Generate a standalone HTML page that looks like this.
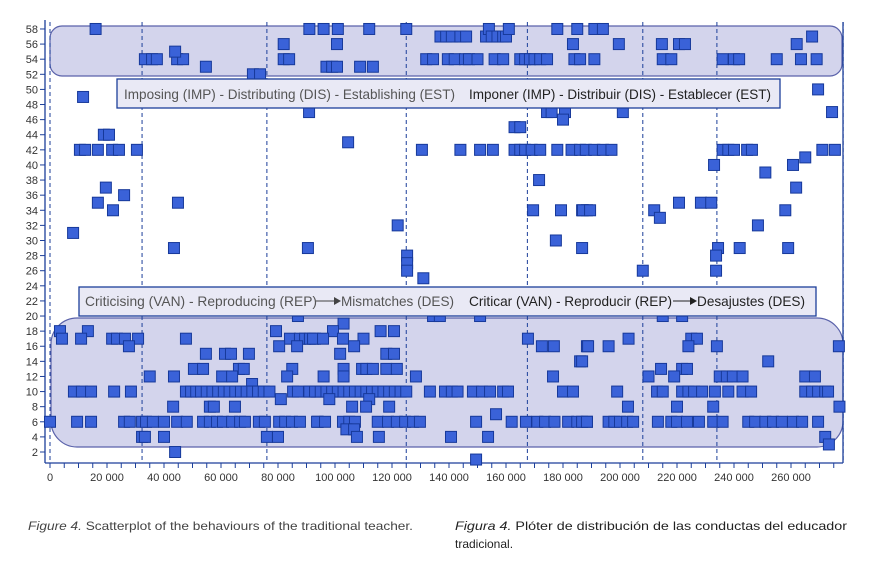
<!DOCTYPE html>
<html><head><meta charset="utf-8">
<style>
html,body{margin:0;padding:0;background:#fff;}
svg{display:block;font-family:"Liberation Sans",sans-serif;}
</style></head>
<body>
<svg id="chart" width="878" height="572" viewBox="0 0 878 572" xmlns="http://www.w3.org/2000/svg">
<g id="regions"></g>
<g id="grid"></g>
<g id="axes"></g>
<g id="points"></g>
<g id="labels"></g>
<g id="caption"></g>
</svg>
<script>
// x values in thousands, y values = behaviour code
const xs = [
 16,91,96,101,112,125,137,139,141,144,146,153,154,155,157,159,160,161,178,185,191,194,
 33.3,35.8,37.5,44.6,46.7,82,83.9,132,134.4,139.6,142,145.6,147,150,156,159,165,166.7,168.4,170,172,174.4,184,186,191,215,218,236,240,241.8,255,263.5,269,
 43.9,82,100.7,183.5,199.6,214.7,220.7,222.8,262,
 267.4,
 54.7,97,99,100.7,108.8,113.3,
 71.2,73.7,
 11.6,269.5,
 90.9,174.4,176,180.7,201,274.4,
 180,
 18.9,20.7,163,165,
 104.6,
 10.5,12.3,16.8,21.8,24.2,30.5,130.5,144,150.9,155.4,163,165,166.7,169,172,178,183,186,188,191,194,197,236,238,240,244.6,246.3,271,275.4,
 265,233,260.7,251,
 19.6,171.6,261.8,
 26,
 16.8,44.9,220.7,228.4,232,
 22.1,169.5,179.3,186.7,188.4,187,189.5,212,258,
 214,
 122,248.4,
 8.1,
 177.5,
 43.5,90.5,186.7,234.4,242,259,
 125.3,233.7,
 125.3,
 125.3,208,233.7,
 131,
 87,134.4,136.8,150.9,215,221.8,
 103,
 3.5,13.3,79.3,99.3,116,120.7,
 4.2,10.9,21.8,23.5,26.3,30.9,47.7,84.2,87.7,89.5,91.2,93,92.3,95.8,102.8,110,167.7,203,225,227,
 27.7,80.4,86.7,106.7,172.6,176.8,188.4,188.8,196,224,234,276.8,
 54.7,61.4,63.5,69.8,101.8,118,120.7,
 186,186.7,252,
 50.5,53.7,66.3,68,85,103,109.5,111,113.3,118,121.7,214.4,221.8,223.5,
 35,43.5,60.4,63.9,83.2,96,103,128.4,176.5,210,219,235,237.5,239.6,243,265,268.4,
 70.9,
 8.4,11.2,14.4,22.5,28.4,47.7,49.5,51.3,53,55,57,59,61,63,65,67,69,71,73,75,77,85.3,87,91.2,93.7,
 91,93,95,97,99,101,103,105,107,109,111,113,115,117,119,121,123,125,133.3,138.6,141,143,148.4,151.6,154.4,159,160.7,180,183.5,
 199,213,215,221.8,224,226,228.8,233.3,238,243,246,265,267.4,269.5,272,273,
 81,98,112,
 43.2,56.1,57.5,64.9,106,110.9,119,232.7,220,277,202.8,
 156.5,
 0,9.5,14.4,26,28,32.3,33.7,36.1,40,44.6,48,53.7,56.1,58.6,60.7,63.9,66.7,68.4,73.3,75.4,80.4,82.5,84.9,87.7,94,
 93.7,96.5,102.8,105,107,115,118.6,121.7,124.6,127.4,129.8,149.5,162,167,171,173.7,177,181.8,185,188.4,
 186.7,188.4,196,198,200,202.5,204.6,213.3,218,220,223.5,227.7,232.7,236,245,247.4,251,253.7,256.8,260.7,263.9,269.5,
 104,106.7,
 32.3,33.3,40,76.1,80,107.7,115.4,140.7,153.7,272,
 273.3,
 43.9,
 149.5
];
const ys = [
 58,58,58,58,58,58,57,57,57,57,57,57,58,57,57,57,57,58,58,58,58,58,
 54,54,54,54,54,54,54,54,54,54,54,54,54,54,54,54,54,54,54,54,54,54,54,54,54,54,54,54,54,54,54,54,54,
 55,56,56,56,56,56,56,56,56,
 57,
 53,53,53,53,53,53,
 52,52,
 49,50,
 47,47,47,47,47,47,
 46,
 44,44,45,45,
 43,
 42,42,42,42,42,42,42,42,42,42,42,42,42,42,42,42,42,42,42,42,42,42,42,42,42,42,42,42,42,
 41,40,40,39,
 37,38,37,
 36,
 35,35,35,35,35,
 34,34,34,34,34,34,34,34,34,
 33,
 32,32,
 31,
 30,
 29,29,29,29,29,29,
 28,28,
 27,
 26,26,26,
 25,
 20,20,20,20,20,20,
 19,
 18,18,18,18,18,18,
 17,17,17,17,17,17,17,17,17,17,17,17,17,17,17,17,17,17,17,17,
 16,16,16,16,16,16,16,16,16,16,16,16,
 15,15,15,15,15,15,15,
 14,14,14,
 13,13,13,13,13,13,13,13,13,13,13,13,13,13,
 12,12,12,12,12,12,12,12,12,12,12,12,12,12,12,12,12,
 11,
 10,10,10,10,10,10,10,10,10,10,10,10,10,10,10,10,10,10,10,10,10,10,10,10,10,
 10,10,10,10,10,10,10,10,10,10,10,10,10,10,10,10,10,10,10,10,10,10,10,10,10,10,10,10,10,
 10,10,10,10,10,10,10,10,10,10,10,10,10,10,10,10,
 9,9,9,
 8,8,8,8,8,8,8,8,8,8,8,
 7,
 6,6,6,6,6,6,6,6,6,6,6,6,6,6,6,6,6,6,6,6,6,6,6,6,6,
 6,6,6,6,6,6,6,6,6,6,6,6,6,6,6,6,6,6,6,6,
 6,6,6,6,6,6,6,6,6,6,6,6,6,6,6,6,6,6,6,6,6,6,
 5,5,
 4,4,4,4,4,4,4,4,4,4,
 3,
 2,
 1
];
const yTicks = [2,4,6,8,10,12,14,16,18,20,22,24,26,28,30,32,34,36,38,40,42,44,46,48,50,52,54,56,58];
const xLabelValues = [0,20,40,60,80,100,120,140,160,180,200,220,240,260];
const xLabelTexts = ["0","20 000","40 000","60 000","80 000","100 000","120 000","140 000","160 000","180 000","200 000","220 000","240 000","260 000"];
const sessionBreaks = [0,32.3,76.1,125,167.5,208,234,278.3];

const NS="http://www.w3.org/2000/svg";
const X0=50, PXK=2.85, Y2=452, PY=7.554;
function sx(v){return X0+v*PXK;}
function sy(v){return Y2-(v-2)*PY;}
function mk(tag,attrs,parent){const e=document.createElementNS(NS,tag);for(const k in attrs)e.setAttribute(k,attrs[k]);parent.appendChild(e);return e;}

const regions=document.getElementById('regions');
let r=mk('rect',{x:50,y:26,width:792,height:50,rx:12,fill:'#d3d4ec',stroke:'#5a62aa','stroke-width':1.2},regions);


r=mk('rect',{x:51,y:318,width:792,height:129,rx:26,fill:'#d3d4ec',stroke:'#5a62aa','stroke-width':1.2},regions);



const grid=document.getElementById('grid');
sessionBreaks.forEach(v=>{
 const l=mk('line',{x1:sx(v),x2:sx(v),y1:22,y2:463,stroke:'#1c3f9a','stroke-width':1,'stroke-dasharray':'4,3'},grid);
 
 
});

const axes=document.getElementById('axes');
let a=mk('line',{x1:45,x2:45,y1:20,y2:463,stroke:'#1c3f9a','stroke-width':1.3},axes);


a=mk('line',{x1:45,x2:843,y1:463,y2:463,stroke:'#1c3f9a','stroke-width':1.3},axes);


mk('line',{x1:843,x2:843,y1:22,y2:463,stroke:'#1c3f9a','stroke-width':1.3},axes);
yTicks.forEach(v=>{
 mk('line',{x1:40,x2:45,y1:sy(v),y2:sy(v),stroke:'#1c3f9a','stroke-width':1},axes);
 const t=mk('text',{x:38,y:sy(v)+4,'text-anchor':'end','font-size':11,fill:'#333'},axes);
 t.textContent=v;
 
 
});
for(let k=0;k<=275;k+=5){
 mk('line',{x1:sx(k),x2:sx(k),y1:463,y2:468,stroke:'#1c3f9a','stroke-width':1},axes);
}
xLabelValues.forEach((v,i)=>{
 const t=mk('text',{x:sx(v),y:481,'text-anchor':'middle','font-size':11,fill:'#333'},axes);
 t.textContent=xLabelTexts[i];
 
 
});

const pts=document.getElementById('points');
xs.forEach((v,i)=>{
 const p=mk('rect',{x:sx(v)-5.5,y:sy(ys[i])-5.5,width:11,height:11,fill:'#3a62d8',stroke:'#17399a','stroke-width':1},pts);
 
 
});

const labels=document.getElementById('labels');
let b=mk('rect',{x:117,y:79,width:663,height:29,fill:'#e9e9f5',stroke:'#1c3f9a','stroke-width':1.3},labels);


let t=mk('text',{x:124,y:99,'font-size':14,fill:'#555',textLength:331,lengthAdjust:'spacingAndGlyphs'},labels);
t.textContent='Imposing (IMP) - Distributing (DIS) - Establishing (EST)';
t=mk('text',{x:469,y:99,'font-size':14,fill:'#222',textLength:302,lengthAdjust:'spacingAndGlyphs'},labels);
t.textContent='Imponer (IMP) - Distribuir (DIS) - Establecer (EST)';
b=mk('rect',{x:79,y:287,width:737,height:29,fill:'#e9e9f5',stroke:'#1c3f9a','stroke-width':1.3},labels);


t=mk('text',{x:85,y:306,'font-size':14,fill:'#555',textLength:232,lengthAdjust:'spacingAndGlyphs'},labels);
t.textContent='Criticising (VAN) - Reproducing (REP)';
mk('line',{x1:316,x2:334,y1:301,y2:301,stroke:'#444','stroke-width':1},labels);
mk('path',{d:'M334,297 L341,301 L334,305 Z',fill:'#444'},labels);
t=mk('text',{x:341,y:306,'font-size':14,fill:'#555',textLength:113,lengthAdjust:'spacingAndGlyphs'},labels);
t.textContent='Mismatches (DES)';
t=mk('text',{x:469,y:306,'font-size':14,fill:'#222',textLength:203,lengthAdjust:'spacingAndGlyphs'},labels);
t.textContent='Criticar (VAN) - Reproducir (REP)';
mk('line',{x1:673,x2:690,y1:301,y2:301,stroke:'#222','stroke-width':1},labels);
mk('path',{d:'M690,297 L697,301 L690,305 Z',fill:'#222'},labels);
t=mk('text',{x:697,y:306,'font-size':14,fill:'#222',textLength:108,lengthAdjust:'spacingAndGlyphs'},labels);
t.textContent='Desajustes (DES)';

const cap=document.getElementById('caption');
t=mk('text',{x:28,y:530,'font-size':12,fill:'#444',textLength:385,lengthAdjust:'spacingAndGlyphs'},cap);
t.innerHTML='<tspan font-style="italic">Figure 4.</tspan> Scatterplot of the behaviours of the traditional teacher.';


t=mk('text',{x:455,y:530,'font-size':12,fill:'#222',textLength:392,lengthAdjust:'spacingAndGlyphs'},cap);
t.innerHTML='<tspan font-style="italic">Figura 4.</tspan> Plóter de distribución de las conductas del educador';


t=mk('text',{x:455,y:548,'font-size':12,fill:'#222'},cap);
t.textContent='tradicional.';
</script>
</body></html>
